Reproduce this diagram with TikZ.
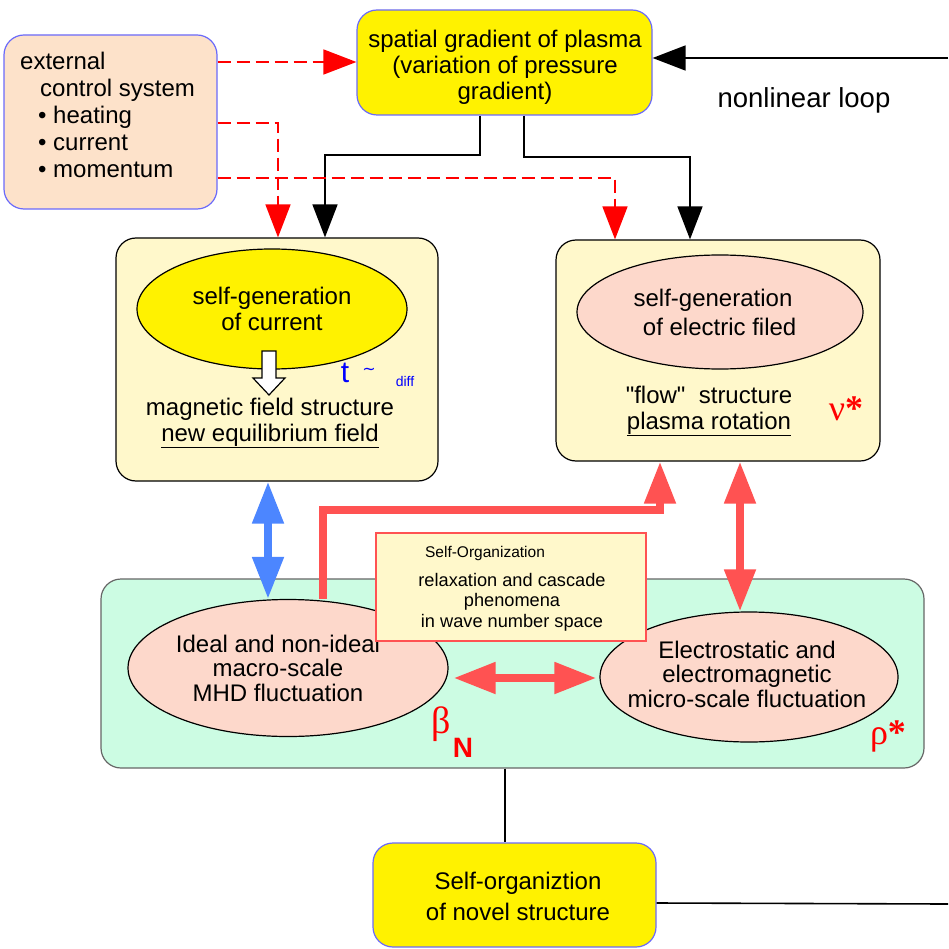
\documentclass[tikz,border=0pt]{standalone}
\usepackage{fontspec}
\setmainfont{Liberation Sans}
\newfontfamily\grk{Liberation Serif}
\newfontfamily\djv{DejaVu Sans}
\newfontfamily\rawsans{Liberation Sans}
\usetikzlibrary{arrows.meta,shapes.geometric}
\definecolor{peach}{HTML}{FDE2CA}
\definecolor{paleyel}{HTML}{FFF8CB}
\definecolor{palepink}{HTML}{FDD8CB}
\definecolor{palegrn}{HTML}{CCFCE3}
\definecolor{boxblue}{HTML}{6A6AFA}
\definecolor{salmon}{HTML}{FF5252}
\definecolor{arrblue}{HTML}{4C86FF}
\begin{document}
\begin{tikzpicture}[x=1pt,y=-1pt,every node/.style={font=\fontsize{24}{26}\selectfont},
  box/.style={draw,rounded corners=20pt,line width=1.2pt,inner sep=0pt},
  oval/.style={ellipse,draw,line width=1.2pt,inner sep=0pt},
  blk/.style={line width=1.6pt,-{Triangle[length=33pt,width=25pt]}},
  ctl/.style={red,line width=1.6pt,dash pattern=on 13pt off 6pt,-{Triangle[length=33pt,width=25pt]}},
  fat/.style={salmon,line width=8pt,-{Triangle[length=42pt,width=30pt]}},
  fat2/.style={fat,{Triangle[length=42pt,width=30pt]}-{Triangle[length=42pt,width=30pt]}}]
  \useasboundingbox (0,0) rectangle (948,949);
  % top row
  \node[box,fill=peach,draw=boxblue,minimum width=213,minimum height=174] (ext) at (110.5,122) {};
  \node[anchor=north west,align=left,inner sep=0pt,font=\fontsize{24}{27}\selectfont] (exttxt) at (20,52)
    {external\\\hspace*{20pt}control system\\\hspace*{18pt}\textbullet\ heating\\\hspace*{18pt}\textbullet\ current\\\hspace*{18pt}\textbullet\ momentum};
  \node[box,fill=yellow,draw=boxblue,minimum width=295,minimum height=105] (grad) at (504.5,62.5) {};
  \node[align=center] (gradtxt) at (505,67) {spatial gradient of plasma\\(variation of pressure\\gradient)};
  \node[font=\fontsize{27.5}{30}\selectfont] (nll) at (804,100) {nonlinear loop};
  \coordinate (loopin) at (948,58);
  % middle row
  \node[box,fill=paleyel,minimum width=322,minimum height=243] (lbox) at (277,359.5) {};
  \node[oval,fill=yellow,minimum width=270,minimum height=120,align=center] (cur) at (272,309) {self-generation\\of current};
  \draw[line width=1.2pt,fill=white] (262,351) -- (276,351) -- (276,378) -- (285,378) -- (269,395) -- (253,378) -- (262,378) -- cycle;
  \node[text=blue,font=\fontsize{30}{30}\selectfont] (tau) at (345,373) {t};
  \node[text=blue,font=\djv\fontsize{16}{18}\selectfont] (tld) at (369,371) {∼};
  \node[text=blue,font=\fontsize{14}{16}\selectfont] (dif) at (405,381) {diff};
  \node[align=center] (mag) at (270,423) {magnetic field structure\\\underline{new equilibrium field}};
  \node[box,fill=paleyel,minimum width=324,minimum height=221] (rbox) at (718,350.5) {};
  \node[oval,fill=palepink,minimum width=286,minimum height=114] (efld) at (720,312) {};
  \node[align=center,font=\fontsize{24}{29}\selectfont] (efldtxt) at (713,312) {self-generation\\\ \ of electric filed};
  \node[align=center] (flow) at (709,411) {{\rawsans "flow"}\ \ structure\\\underline{plasma rotation}};
  \node[text=red,font=\grk\fontsize{36}{36}\selectfont] (nu) at (846,409) {ν\textbf{*}};
  % bottom row
  \node[box,fill=palegrn,draw=black!60,minimum width=823,minimum height=189] (grn) at (512.5,673.5) {};
  \node[oval,fill=palepink,minimum width=320,minimum height=137] (mhd) at (288,668) {};
  \node[align=center,font=\fontsize{24}{24.5}\selectfont] (mhdtxt) at (278,668) {Ideal and non-ideal\\macro-scale\\MHD fluctuation};
  \node[oval,fill=palepink,minimum width=298,minimum height=130] (micro) at (749,677) {};
  \node[align=center,font=\fontsize{24}{24.5}\selectfont] (microtxt) at (747,674) {Electrostatic and\\electromagnetic\\micro-scale fluctuation};
  \node[draw=salmon,line width=2.2pt,fill=paleyel,minimum width=270,minimum height=108,inner sep=0pt] (sorg) at (511,587) {};
  \node[font=\fontsize{15.5}{17}\selectfont] (sotl) at (485,553) {Self-Organization};
  \node[align=center,font=\fontsize{18.2}{20.5}\selectfont] (relx) at (512,602) {relaxation and cascade\\phenomena\\in wave number space};
  \node[text=red,font=\grk\fontsize{38}{38}\selectfont] (beta) at (441,724) {β};
  \node[text=red,font=\bfseries\fontsize{28}{28}\selectfont] (bN) at (463,748) {N};
  \node[text=red,font=\grk\fontsize{36}{36}\selectfont] (rho) at (888,736) {ρ\textbf{*}};
  \node[box,fill=yellow,draw=boxblue,minimum width=283,minimum height=104] (novel) at (514.5,895) {};
  \node[align=center,font=\fontsize{24}{31}\selectfont] (noveltxt) at (518,896) {Self-organiztion\\of novel structure};
  \coordinate (loopout) at (948,904);
  % connectors
  \draw[blk] (loopin) -- (loopin -| grad.east);
  \draw[blk] (grad.south -| 480,0) -- (480,155) -| (lbox.north -| 325,0);
  \draw[blk] (grad.south -| 524,0) -- (524,157) -| (rbox.north -| 690,0);
  \draw[ctl] (ext.east |- 0,62) -- (grad.west |- 0,62);
  \draw[ctl] (ext.east |- 0,123) -| (lbox.north -| 278,0);
  \draw[ctl] (ext.east |- 0,178) -| (rbox.north -| 615,0);
  \draw[fat2,draw=arrblue] (lbox.south -| 268,0) -- (mhd.north -| 268,0);
  \draw[fat,line join=miter] (mhd.north -| 323,0) -- (323,510) -| (rbox.south -| 660,0);
  \draw[fat2] (rbox.south -| 740,0) -- (micro.north -| 740,0);
  \draw[fat2,shorten <=5pt,shorten >=3pt] (mhd.east |- 0,678) -- (micro.west |- 0,678);
  \draw[line width=1.6pt] (grn.south -| 505,0) -- (novel.north -| 505,0);
  \draw[line width=1.6pt] (novel.east |- 0,903) -- (loopout);
\end{tikzpicture}
\end{document}
